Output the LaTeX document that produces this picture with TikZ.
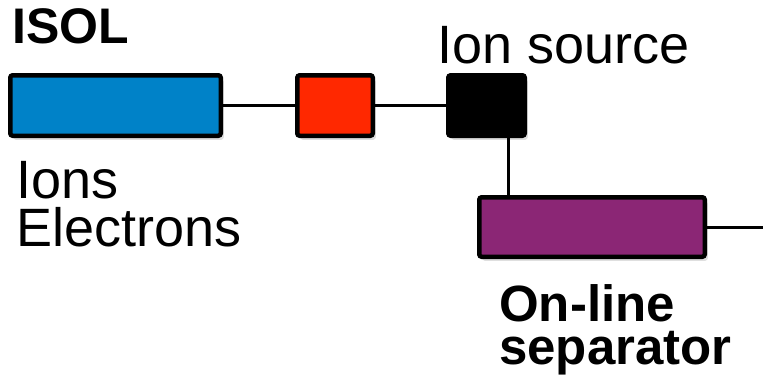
\documentclass[tikz,border=0pt]{standalone}
\usepackage{fontspec}
\setmainfont{Liberation Sans}
\usetikzlibrary{shadows}
\definecolor{isolblue}{RGB}{0,130,200}
\definecolor{boxred}{RGB}{255,40,0}
\definecolor{seppurple}{RGB}{139,38,117}
\begin{document}
\begin{tikzpicture}[x=1pt,y=-1pt,
    blk/.style={draw=black,line width=4.5pt,rounded corners=2.5pt,inner sep=0pt,
      minimum height=60.5pt,
      drop shadow={opacity=0.25,shadow xshift=3pt,shadow yshift=-4pt}},
    wire/.style={line width=3pt},
    lbl/.style={anchor=base west,inner sep=0pt,font=\fontsize{54}{48}\selectfont,align=left},
    blbl/.style={anchor=base west,inner sep=0pt,font=\fontsize{51}{43}\selectfont\bfseries,align=left}]
    \useasboundingbox (0,0) rectangle (763,378);
    % beam line
    \node[blk,fill=isolblue,minimum width=210.5pt] (isolbox) at (115.5,105.5) {};
    \node[blk,fill=boxred,minimum width=75.5pt] (midbox) at (335,105.5) {};
    \node[blk,fill=black,minimum width=76.5pt] (ionsrc) at (486.5,105.5) {};
    \node[blk,fill=seppurple,minimum width=225.5pt,minimum height=59.5pt] (separator) at (592,227) {};
    \coordinate (exit) at (763,227);
    \draw[wire] (isolbox.east)--(midbox.west);
    \draw[wire] (midbox.east)--(ionsrc.west);
    \draw[wire] ([xshift=21.5pt]ionsrc.south)--([xshift=21.5pt]ionsrc.south |- separator.north);
    \draw[wire] (separator.east)--(exit);
    % labels
    \node[blbl,font=\fontsize{50}{43}\selectfont\bfseries] (isoltxt) at (12,43) {ISOL};
    \node[lbl] (srctxt) at (437,63) {Ion source};
    \node[lbl] (ionstxt) at (16,246) {Ions\\Electrons};
    \node[blbl] (septxt) at (499,364) {On-line\\separator};
\end{tikzpicture}
\end{document}
